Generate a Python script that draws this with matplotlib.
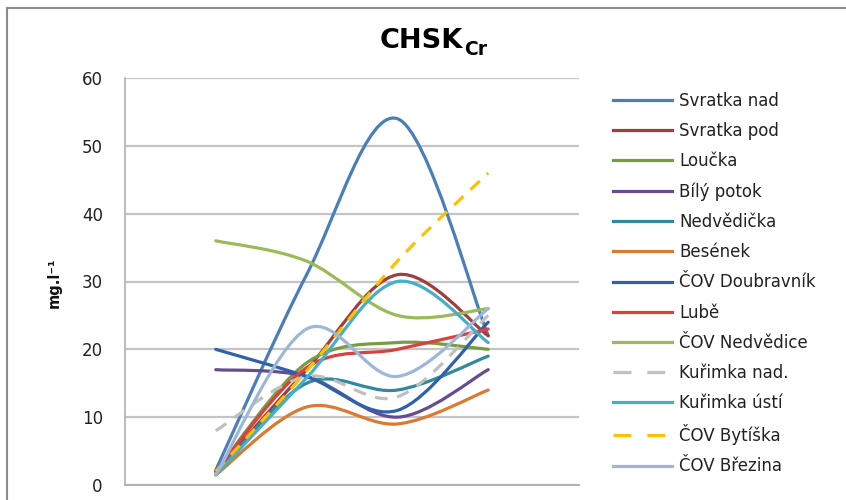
import matplotlib
matplotlib.use("Agg")
import matplotlib.pyplot as plt
from matplotlib.path import Path
from matplotlib.patches import PathPatch
from matplotlib.lines import Line2D

# ---- data ----
x_pos = [1, 2, 3, 4]
series_names = ["Svratka nad", "Svratka pod", "Loučka", "Bílý potok", "Nedvědička",
                "Besének", "ČOV Doubravník", "Lubě", "ČOV Nedvědice", "Kuřimka nad.",
                "Kuřimka ústí", "ČOV Bytíška", "ČOV Březina"]
svratka_nad = [2.2, 31, 54, 22]
svratka_pod = [2, 17, 31, 22]
loucka = [2, 18, 21, 20]
bily_potok = [17, 16, 10, 17]
nedvedicka = [1.5, 15, 14, 19]
besenek = [1.5, 11.5, 9, 14]
cov_doubravnik = [20, 16, 11, 24]
lube = [2, 17.3, 20, 23]
cov_nedvedice = [36, 33, 25, 26]
kurimka_nad = [8, 16, 13, 25]
kurimka_usti = [1.5, 15.8, 30, 21]
cov_bytiska = [2, 16.8, 33, 46]
cov_brezina = [1.5, 23, 16, 26]
all_values = [svratka_nad, svratka_pod, loucka, bily_potok, nedvedicka, besenek,
              cov_doubravnik, lube, cov_nedvedice, kurimka_nad, kurimka_usti,
              cov_bytiska, cov_brezina]
y_ticks = [0, 10, 20, 30, 40, 50, 60]

# ---- styles ----
colors = ["#4A7EBB", "#A43D3A", "#7A9C40", "#664C8F", "#31899F", "#DB7A30",
          "#2F62A8", "#D9413E", "#9BBB59", "#C0C0C0", "#45AFCB", "#FFC000", "#9DB7DB"]
dashed = [False] * 9 + [True, False, True, False]

FONT = "DejaVu Sans"
plt.rcParams["font.family"] = [FONT]

fig = plt.figure(figsize=(8.46, 5.0), dpi=100)
W, H = 846, 500
ax = fig.add_axes([125 / W, 1 - 485 / H, (579 - 125) / W, (485 - 78) / H])


def smooth_path(xs, ys):
    n = len(xs)
    verts = [(xs[0], ys[0])]
    codes = [Path.MOVETO]
    for i in range(n - 1):
        p0 = i - 1 if i > 0 else i
        p3 = i + 2 if i + 2 < n else i + 1
        c1 = (xs[i] + (xs[i + 1] - xs[p0]) / 6.0, ys[i] + (ys[i + 1] - ys[p0]) / 6.0)
        c2 = (xs[i + 1] - (xs[p3] - xs[i]) / 6.0, ys[i + 1] - (ys[p3] - ys[i]) / 6.0)
        verts += [c1, c2, (xs[i + 1], ys[i + 1])]
        codes += [Path.CURVE4] * 3
    return Path(verts, codes)


LW = 2.3
handles = []
for name, vals, col, dsh in zip(series_names, all_values, colors, dashed):
    ls = (0, (4, 3)) if dsh else "-"
    patch = PathPatch(smooth_path(x_pos, vals), fill=False, edgecolor=col, lw=LW,
                      linestyle=ls, capstyle="butt" if dsh else "round",
                      joinstyle="round", zorder=3)
    ax.add_patch(patch)
    handles.append(Line2D([], [], color=col, lw=LW,
                          linestyle=(0, (5.6, 5.0)) if dsh else "-", label=name))

ax.set_xlim(0, 5)
ax.set_ylim(0, 60)
ax.set_yticks(y_ticks)
ax.set_xticks([])
ax.yaxis.grid(True, color="#C4C4C4", lw=1.6)
ax.set_axisbelow(True)
for s in ["top", "right"]:
    ax.spines[s].set_visible(False)
ax.spines["left"].set_color("#B0B0B0")
ax.spines["left"].set_linewidth(1.2)
ax.spines["bottom"].set_color("#B0B0B0")
ax.spines["bottom"].set_linewidth(1.4)
ax.tick_params(axis="y", length=0, pad=16, labelsize=12, labelcolor="#222222")

# y-axis label
fig.text(54 / W, 1 - 283 / H, "mg.l⁻¹", rotation=90, ha="center", va="center",
         fontsize=10.5, fontweight="bold", color="#111111")

# title with subscript
fig.text(463 / W, 1 - 48 / H, "CHSK", ha="right", va="baseline",
         fontsize=19.5, fontweight="bold", color="#000000")
fig.text(464 / W, 1 - 55 / H, "Cr", ha="left", va="baseline",
         fontsize=13.5, fontweight="bold", color="#000000")

# legend
leg = fig.legend(handles=handles, loc="upper left",
                 bbox_to_anchor=(613 / W, 1 - 92 / H), frameon=False,
                 borderaxespad=0, borderpad=0, handlelength=3.55,
                 handletextpad=0.42, labelspacing=0.73, fontsize=12)
for t in leg.get_texts():
    t.set_color("#222222")

# chart area border (cropped frame)
fig.add_artist(Line2D([7 / W, 7 / W], [0, 1 - 8 / H], transform=fig.transFigure,
                      color="#8C8C8C", lw=1.5))
fig.add_artist(Line2D([7 / W, 1], [1 - 8 / H, 1 - 8 / H], transform=fig.transFigure,
                      color="#8C8C8C", lw=1.5))

fig.savefig("out.png", dpi=100)
